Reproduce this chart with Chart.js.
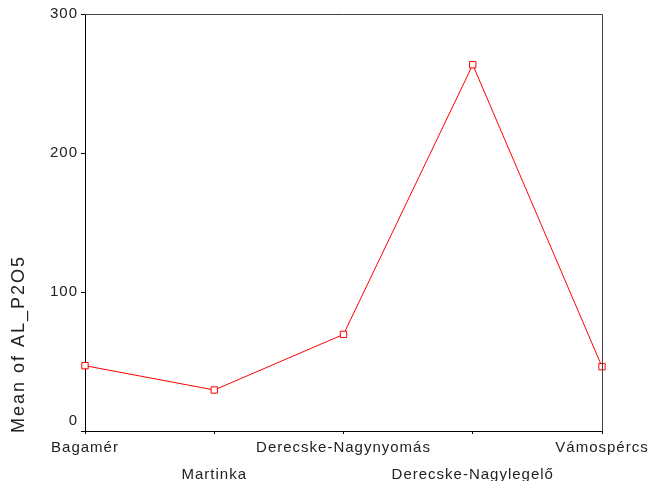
<!DOCTYPE html>
<html>
<head>
<meta charset="utf-8">
<script src="https://cdn.jsdelivr.net/npm/chart.js@4/dist/chart.umd.min.js"></script>
<style>
  html, body { margin: 0; padding: 0; background: #fff; overflow: hidden; }
</style>
</head>
<body>
<canvas id="chart" width="651" height="481"></canvas>
<script>
const categories = ['Bagamér', 'Martinka', 'Derecske-Nagynyomás', 'Derecske-Nagylegelő', 'Vámospércs'];
const meanValues = [47, 29.5, 69.5, 263.5, 46.3];
const yTicks = [0, 100, 200, 300];
const yTitle = 'Mean of AL_P2O5';

const fontFamily = '"Liberation Sans", Arial, sans-serif';

// texte un peu espacé comme l'original, cadre haut + droite, titre Y placé plus bas
const framePlugin = {
  id: 'frame',
  beforeLayout(chart) { chart.ctx.letterSpacing = '1px'; },
  beforeDraw(chart) { chart.ctx.letterSpacing = '1px'; },
  afterDraw(chart) {
    const { ctx, chartArea } = chart;
    ctx.save();
    ctx.strokeStyle = '#444';
    ctx.lineWidth = 1;
    ctx.beginPath();
    ctx.moveTo(chartArea.left, chartArea.top + 0.5);
    ctx.lineTo(chartArea.right + 0.5, chartArea.top + 0.5);
    ctx.lineTo(chartArea.right + 0.5, chartArea.bottom);
    ctx.stroke();

    ctx.translate(19, 344);
    ctx.rotate(-Math.PI / 2);
    ctx.letterSpacing = '2px';
    ctx.fillStyle = '#222';
    ctx.font = '18px ' + fontFamily;
    ctx.textAlign = 'center';
    ctx.textBaseline = 'middle';
    ctx.fillText(yTitle, 0, 0);
    ctx.restore();
    ctx.letterSpacing = '0px';
  }
};

const ctx = document.getElementById('chart').getContext('2d');
const chart = new Chart(ctx, {
  type: 'line',
  data: {
    labels: categories,
    datasets: [{
      data: meanValues,
      borderColor: '#ff0000',
      borderWidth: 1,
      backgroundColor: '#ffffff',
      pointStyle: 'rect',
      pointRadius: 4.5,
      pointBorderColor: '#ff0000',
      pointBackgroundColor: '#ffffff',
      pointBorderWidth: 1,
      tension: 0
    }]
  },
  options: {
    responsive: false,
    animation: false,
    devicePixelRatio: 1,
    layout: { padding: { top: 14, right: 49, bottom: 0, left: 0 } },
    plugins: { legend: { display: false }, tooltip: { enabled: false } },
    scales: {
      x: {
        offset: false,
        grid: { drawOnChartArea: false, drawTicks: true, tickLength: 3, color: '#000' },
        border: { color: '#000', width: 1 },
        ticks: {
          autoSkip: false,
          maxRotation: 0,
          minRotation: 0,
          padding: 0,
          color: '#222',
          font: { family: fontFamily, size: 15, lineHeight: 27.5 / 15 },
          callback: function (value, index) {
            const label = categories[index];
            return index % 2 === 1 ? ['', label] : label;
          }
        },
        afterFit(scale) { scale.height = 50; }
      },
      y: {
        min: 0,
        max: 300,
        afterBuildTicks(scale) { scale.ticks = yTicks.map(v => ({ value: v })); },
        grid: { drawOnChartArea: false, drawTicks: true, tickLength: 4, color: '#000' },
        border: { color: '#000', width: 1 },
        ticks: {
          padding: 3,
          color: '#222',
          font: { family: fontFamily, size: 15, lineHeight: 1.3 },
          // le "0" est remonté au-dessus de l'axe X
          callback: function (value) { return value === 0 ? ['0', ''] : String(value); }
        },
        afterFit(scale) { scale.width = 85; }
      }
    }
  },
  plugins: [framePlugin]
});
</script>
</body>
</html>
